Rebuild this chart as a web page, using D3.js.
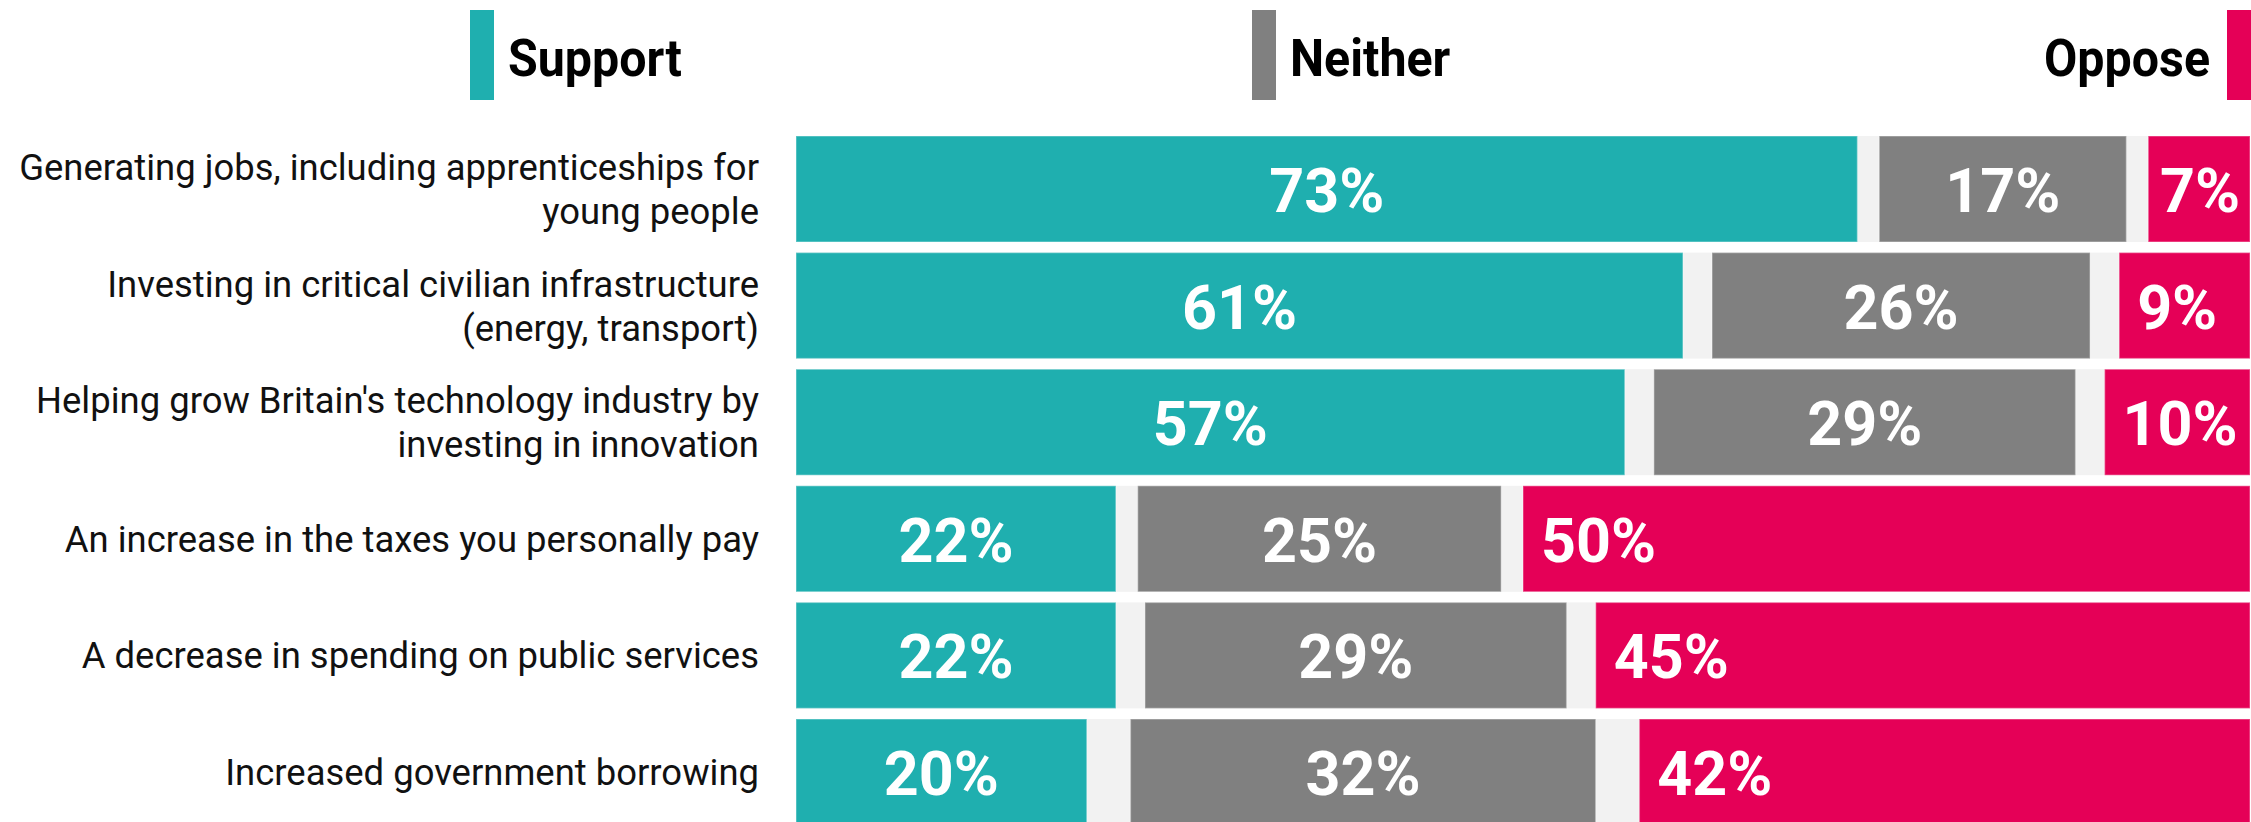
<!DOCTYPE html>
<html>
<head>
<meta charset="utf-8">
<script src="https://cdn.jsdelivr.net/npm/d3@7"></script>
<style>
  html, body { margin: 0; padding: 0; background: #fff; overflow: hidden; }
  svg { display: block; font-family: Roboto, "Noto Sans", sans-serif; }
</style>
</head>
<body>
<svg id="chart" width="2251" height="822"></svg>
<script>
// categories (each one already split in display lines)
var categories = [
  ["Generating jobs, including apprenticeships for", "young people"],
  ["Investing in critical civilian infrastructure", "(energy, transport)"],
  ["Helping grow Britain's technology industry by", "investing in innovation"],
  ["An increase in the taxes you personally pay"],
  ["A decrease in spending on public services"],
  ["Increased government borrowing"]
];
var support = [73, 61, 57, 22, 22, 20];
var neither = [17, 26, 29, 25, 29, 32];
var oppose  = [7, 9, 10, 50, 45, 42];

var seriesNames = ["Support", "Neither", "Oppose"];
var seriesColors = ["#1fafaf", "#808080", "#e50057"];

var width = 2251, height = 822;
var svg = d3.select("#chart");

var x = d3.scaleLinear().domain([0, 100]).range([796, 2250]);
var y = d3.scaleBand()
    .domain(d3.range(categories.length))
    .range([130.7, 830.3])
    .paddingInner(0.091)
    .paddingOuter(0.0455);

// build rows: support from the left, oppose to the right, neither in between
// the "don't know" rest is split into the two gaps
var rows = categories.map(function(c, i) {
  var gap = (100 - support[i] - neither[i] - oppose[i]) / 2;
  return {
    i: i,
    lines: c,
    segs: [
      {k: 0, v: support[i], x0: 0, x1: support[i]},
      {k: 1, v: neither[i], x0: support[i] + gap, x1: support[i] + gap + neither[i]},
      {k: 2, v: oppose[i], x0: 100 - oppose[i], x1: 100}
    ]
  };
});

// legend
var legendX = [470, 1252, 2227];
var legend = svg.append("g");
legend.selectAll("rect")
    .data(seriesNames)
    .enter()
    .append("rect")
    .attr("x", function(d, i) { return legendX[i]; })
    .attr("y", 10)
    .attr("width", 24)
    .attr("height", 90)
    .attr("fill", function(d, i) { return seriesColors[i]; });

legend.selectAll("text")
    .data(seriesNames)
    .enter()
    .append("text")
    .attr("transform", function(d, i) {
      var tx = i == 2 ? legendX[i] - 17 : legendX[i] + 38;
      return "translate(" + tx + ",76) scale(0.93,1)";
    })
    .attr("text-anchor", function(d, i) { return i == 2 ? "end" : "start"; })
    .attr("font-size", "52px")
    .attr("font-weight", "bold")
    .attr("fill", "#000")
    .text(function(d) { return d; });

// row backgrounds
var row = svg.selectAll("g.row")
    .data(rows)
    .enter()
    .append("g")
    .attr("class", "row");

row.append("rect")
    .attr("x", x(0))
    .attr("y", function(d) { return y(d.i); })
    .attr("width", x(100) - x(0))
    .attr("height", y.bandwidth())
    .attr("fill", "#f2f2f2");

row.selectAll("rect.seg")
    .data(function(d) { return d.segs.map(function(s) { s.row = d.i; return s; }); })
    .enter()
    .append("rect")
    .attr("class", "seg")
    .attr("x", function(d) { return x(d.x0); })
    .attr("y", function(d) { return y(d.row); })
    .attr("width", function(d) { return x(d.x1) - x(d.x0); })
    .attr("height", y.bandwidth())
    .attr("fill", function(d) { return seriesColors[d.k]; })
    .attr("stroke", "rgba(255,255,255,0.3)")
    .attr("stroke-width", 1.5);

// value labels
var vals = row.selectAll("text.val")
    .data(function(d) { return d.segs; })
    .enter()
    .append("text")
    .attr("class", "val")
    .attr("y", function(d) { return y(d.row) + y.bandwidth() / 2 + 23; })
    .attr("font-size", "61px")
    .attr("font-weight", "bold")
    .attr("fill", "#fff")
    .text(function(d) { return d.v + "%"; });

vals.each(function(d) {
  var t = d3.select(this);
  if (d.k < 2) {
    t.attr("text-anchor", "middle").attr("x", (x(d.x0) + x(d.x1)) / 2);
  } else {
    var w = this.getComputedTextLength();
    var tx = Math.min(x(d.x0) + 18, x(d.x1) - 10 - w);
    t.attr("text-anchor", "start").attr("x", tx);
  }
});

// category labels
var labels = svg.append("g");
var lab = labels.selectAll("text")
    .data(rows)
    .enter()
    .append("text")
    .attr("text-anchor", "end")
    .attr("font-size", "37px")
    .attr("fill", "#111");

lab.selectAll("tspan")
    .data(function(d) {
      return d.lines.map(function(l, j) { return {t: l, dy: (j - (d.lines.length - 1) / 2) * 44}; });
    })
    .enter()
    .append("tspan")
    .attr("x", 0)
    .attr("y", function(d) { return d.dy; })
    .text(function(d) { return d.t; });

// condense the label font so the longest line fits like the original
var firstLen = lab.select("tspan").node().getComputedTextLength();
var kx = 740 / firstLen;
lab.attr("transform", function(d) {
  return "translate(759," + (y(d.i) + y.bandwidth() / 2 + 13) + ") scale(" + kx + ",1)";
});
</script>
</body>
</html>
